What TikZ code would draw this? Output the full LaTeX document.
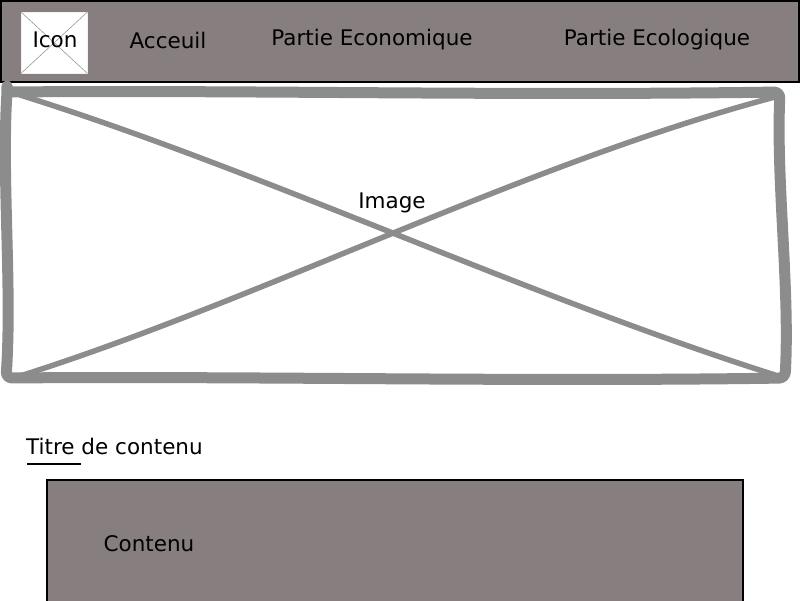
\documentclass[tikz,border=0pt]{standalone}
\usepackage{fontspec}
\setmainfont{DejaVu Sans}
\definecolor{barfill}{HTML}{877F7F}
\definecolor{frame}{HTML}{8C8C8C}
\begin{document}
\begin{tikzpicture}[x=1pt,y=-1pt,
  lbl/.style={font=\fontsize{21.5}{24}\selectfont, text=black, inner sep=0pt},
  panel/.style={fill=barfill, draw=black, line width=1.6pt}]
\useasboundingbox (0,0) rectangle (800,600);
% top bar
\path[panel] (1,1) rectangle (799,82);
% icon
\node[fill=white, draw=white!90!gray, minimum width=66pt, minimum height=61pt, inner sep=0pt, anchor=north west] (icon) at (21,12) {};
\draw[gray!80, line width=0.6pt] (icon.north west) -- (icon.south east) (icon.south west) -- (icon.north east);
\node[lbl] (ticon) at (55,40) {Icon};
\node[lbl] (tacc) at (168,40) {Acceuil};
\node[lbl] (teco) at (372,40) {Partie Economique};
\node[lbl] (tecol) at (657,40) {Partie Ecologique};
% image frame
\coordinate (tl) at (7,92);
\coordinate (tr) at (780,92);
\coordinate (br) at (785,378);
\coordinate (bl) at (6,378);
\draw[frame, line width=11pt, line join=round, rounded corners=6pt]
  (tl) .. controls (250,90) and (500,96) .. (tr)
  .. controls (776,180) and (790,290) .. (br)
  .. controls (520,382) and (250,376) .. (bl)
  .. controls (12,290) and (2,180) .. cycle;
\coordinate (x1) at (20,95);
\coordinate (x2) at (775,375);
\coordinate (x3) at (20,376);
\coordinate (x4) at (775,97);
\draw[frame, line width=5.5pt] (x1) .. controls (260,170) and (523,295) .. (x2);
\draw[frame, line width=5.5pt] (x3) .. controls (260,300) and (523,164) .. (x4);
\node[lbl] (timg) at (392,203) {Image};
% title
\node[lbl, anchor=west] (titre) at (26,446) {Titre de contenu};
\coordinate (u1) at (27,464);
\coordinate (u2) at (81,464);
\draw[black, line width=1.8pt] (u1) -- (u2);
% content box
\path[panel] (47,480) rectangle (743,605);
\node[lbl] (tcont) at (149,544) {Contenu};
\end{tikzpicture}
\end{document}
